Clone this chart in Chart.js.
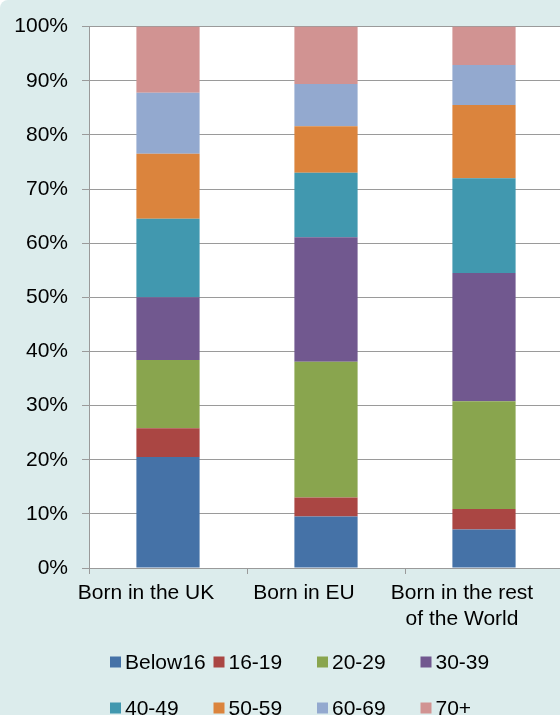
<!DOCTYPE html>
<html>
<head>
<meta charset="utf-8">
<script src="https://cdn.jsdelivr.net/npm/chart.js@4"></script>
<style>
  html, body { margin: 0; padding: 0; background: #fff; overflow: hidden; }
  #frame { width: 560px; height: 715px; overflow: hidden; background: #dcecec; border-top-left-radius: 8px; }
  #myChart { display: block; }
</style>
</head>
<body>
<div id="frame">
  <canvas id="myChart" width="566" height="715"></canvas>
</div>
<script>
const categories = ['Born in the UK', 'Born in EU', ['Born in the rest', 'of the World']];
const ageGroups = ['Below16', '16-19', '20-29', '30-39', '40-49', '50-59', '60-69', '70+'];
const colors = ['#4572a7', '#aa4643', '#89a54e', '#71588f', '#4198af', '#db843d', '#93a9cf', '#d19392'];

// share of each age group (%), bottom to top
const bornUK = [20.5, 5.3, 12.6, 11.6, 14.5, 12.0, 11.3, 12.2];
const bornEU = [9.5, 3.5, 25.1, 23.0, 11.9, 8.6, 7.8, 10.6];
const bornRest = [7.1, 3.8, 19.9, 23.7, 17.5, 13.5, 7.4, 7.1];

const yTicks = [0, 10, 20, 30, 40, 50, 60, 70, 80, 90, 100];

const font = { family: "'Liberation Sans', Arial, sans-serif", size: 21 };

const plotBg = {
  id: 'plotBg',
  beforeDraw(chart) {
    const { ctx, chartArea: a } = chart;
    ctx.save();
    ctx.fillStyle = '#ffffff';
    ctx.fillRect(a.left, a.top, a.right - a.left, a.bottom - a.top);
    ctx.restore();
  }
};

// legend in a 4 column grid like the original
const gridLegend = {
  id: 'gridLegend',
  afterDraw(chart) {
    const ctx = chart.ctx;
    ctx.save();
    ctx.font = font.size + 'px ' + font.family;
    ctx.textBaseline = 'middle';
    chart.data.datasets.forEach((ds, i) => {
      const col = i % 4, row = Math.floor(i / 4);
      const x = 110 + col * 103.5;
      const y = 662 + row * 46;
      ctx.fillStyle = ds.backgroundColor;
      ctx.fillRect(x, y - 5.5, 11, 11);
      ctx.fillStyle = '#000';
      ctx.fillText(ds.label, x + 15, y + 1);
    });
    ctx.restore();
  }
};

const ctx = document.getElementById('myChart');

new Chart(ctx, {
  type: 'bar',
  data: {
    labels: categories,
    datasets: ageGroups.map((g, i) => ({
      label: g,
      data: [bornUK[i], bornEU[i], bornRest[i]],
      backgroundColor: colors[i],
      borderWidth: 0,
      categoryPercentage: 1,
      barPercentage: 0.4
    }))
  },
  plugins: [plotBg, gridLegend],
  options: {
    responsive: false,
    animation: false,
    layout: { padding: { top: 25, right: 3, left: 0, bottom: 0 } },
    plugins: {
      legend: { display: false },
      tooltip: { enabled: false }
    },
    scales: {
      x: {
        stacked: true,
        grid: { drawOnChartArea: false, drawTicks: true, tickLength: 6, color: '#9a9a9a' },
        border: { color: '#9a9a9a', width: 1 },
        ticks: {
          color: '#000',
          font: { ...font, lineHeight: 1.25 },
          padding: 6,
          labelOffset: -22,
          maxRotation: 0,
          autoSkip: false
        },
        afterFit(scale) { scale.height = 147; }
      },
      y: {
        stacked: true,
        min: 0,
        max: 100,
        afterBuildTicks(scale) { scale.ticks = yTicks.map(v => ({ value: v })); },
        grid: { color: '#9a9a9a', tickLength: 7 },
        border: { color: '#9a9a9a', width: 1 },
        ticks: {
          color: '#000',
          font: font,
          padding: 14,
          callback: v => v + '%'
        },
        afterFit(scale) { scale.width = 89; }
      }
    }
  }
});
</script>
</body>
</html>
